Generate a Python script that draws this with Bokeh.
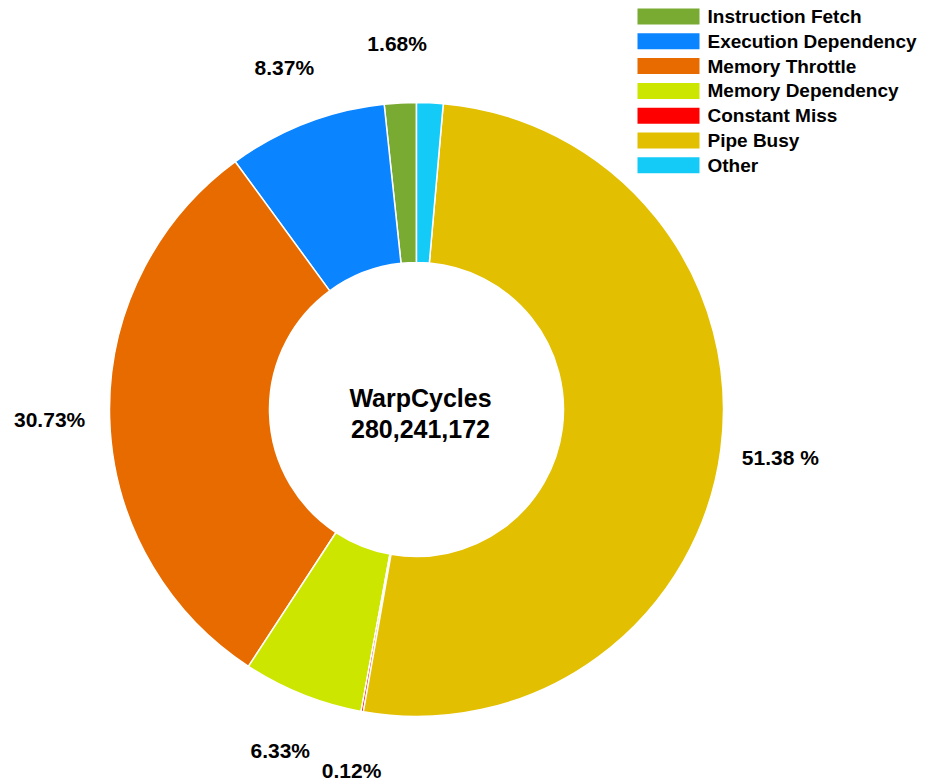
import math
from bokeh.plotting import figure
from bokeh.models import Range1d, ColumnDataSource
from bokeh.core.properties import value
from bokeh.embed import file_html
from bokeh.resources import INLINE

# ---- data ----
categories = ["Instruction Fetch", "Execution Dependency", "Memory Throttle",
              "Memory Dependency", "Constant Miss", "Pipe Busy", "Other"]
percents = [1.68, 8.37, 30.73, 6.33, 0.12, 51.38, 1.39]
labels = ["1.68%", "8.37%", "30.73%", "6.33%", "0.12%", "51.38 %", ""]
colors = ["#79aa32", "#0a84ff", "#e86b00", "#cde600", "#ff0000", "#e2bf00", "#14cbf8"]
center_title = "WarpCycles"
center_value = "280,241,172"

W, H = 917, 782
FONT = "Liberation Sans"

p = figure(width=W, height=H, x_range=Range1d(0, W), y_range=Range1d(0, H),
           output_backend="svg", toolbar_location=None, min_border=0)
p.axis.visible = False
p.grid.visible = False
p.outline_line_color = None
p.background_fill_color = "white"
p.border_fill_color = "white"

# image coordinates: x = px, y = H - py
cx, cy = 416, H - 409
r_out, r_in, r_lab = 307, 147, 367

total = sum(percents)
starts, ends, mids = [], [], []
a = math.pi / 2
for v in percents:
    da = v / total * 2 * math.pi
    starts.append(a)
    ends.append(a + da)
    mids.append(a + da / 2)
    a += da

src = ColumnDataSource(dict(start=starts, end=ends, color=colors, cat=categories))
p.annular_wedge(x=cx, y=cy, inner_radius=r_in, outer_radius=r_out,
                start_angle="start", end_angle="end", fill_color="color",
                line_color="white", line_width=1.5, source=src)

lab_src = ColumnDataSource(dict(
    x=[cx + r_lab * math.cos(m) for m in mids],
    y=[cy + r_lab * math.sin(m) for m in mids],
    text=labels))
p.text(x="x", y="y", text="text", source=lab_src, text_align="center",
       text_baseline="middle", text_font=value(FONT), text_font_style="bold",
       text_font_size="21px", text_color="black")

p.text(x=[cx + 4, cx + 4], y=[cy + 12, cy - 19], text=[center_title, center_value],
       text_align="center", text_baseline="middle", text_font=value(FONT),
       text_font_style="bold", text_font_size="25px", text_color="black")

# legend
leg_top = H - 16
sw_x, sw_w, sw_h, step = 668, 62, 16, 24.8
ys = [leg_top - i * step for i in range(len(categories))]
p.rect(x=[sw_x] * len(categories), y=ys, width=sw_w, height=sw_h,
       fill_color=colors, line_color=None)
p.text(x=[707] * len(categories), y=ys, text=categories, text_align="left",
       text_baseline="middle", text_font=value(FONT), text_font_style="bold",
       text_font_size="19px", text_color="black")

open("out.html", "w").write(file_html(p, INLINE))
